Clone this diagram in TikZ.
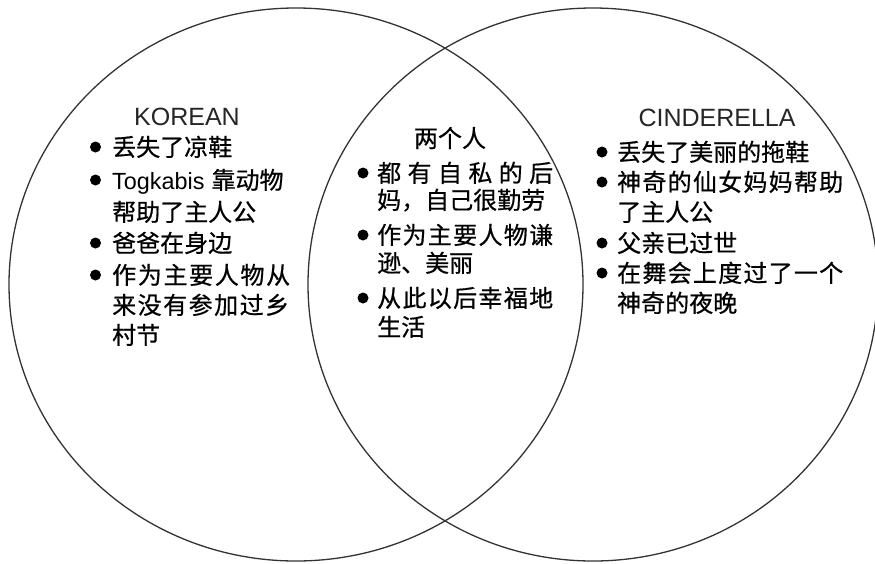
\documentclass[tikz,border=0pt]{standalone}
\usepackage{fontspec}
\setmainfont{Liberation Sans}
\newfontfamily\cjk[FakeBold=0.6]{Noto Sans CJK SC}
\newcommand{\jbox}[2]{\makebox[#1pt][s]{#2}}
\begin{document}
\begin{tikzpicture}[x=1pt,y=-1pt,
  ring/.style={draw=black!80, line width=1.3pt},
  title/.style={inner sep=0pt, font=\fontsize{25}{25}\selectfont, text=black!85},
  ctitle/.style={inner sep=0pt, font=\cjk\fontsize{24}{24}\selectfont},
  item/.style={anchor=base west, inner sep=0pt, font=\cjk\fontsize{24}{24}\selectfont},
  bul/.style={circle, fill=black, inner sep=0pt, minimum size=11pt}]
\useasboundingbox (0,0) rectangle (875,563);
\clip (0,0) rectangle (875,563);
\fill[white] (0,0) rectangle (875,563);
% circles
\draw[ring] (296,284.5) ellipse [x radius=287, y radius=276.5];
\draw[ring] (593,284.5) ellipse [x radius=285, y radius=276.5];
% ---- left: KOREAN
\node[title] (kt) at (187,117) {KOREAN};
\node[bul] (kb1) at (95.5,147) {};
\node[item] (k1) at (112,156) {丢失了凉鞋};
\node[bul] (kb2) at (95.5,180) {};
\node[item] (k2) at (112,189) {{\fontsize{23.4}{24}\selectfont\rmfamily Togkabis}\hspace{7pt}靠动物};
\node[item] (k3) at (112,221) {帮助了主人公};
\node[bul] (kb3) at (95.5,243) {};
\node[item] (k4) at (112,252) {爸爸在身边};
\node[bul] (kb4) at (95.5,275) {};
\node[item] (k5) at (112,284) {\jbox{178}{作\hfill 为\hfill 主\hfill 要\hfill 人\hfill 物\hfill 从}};
\node[item] (k6) at (112,314) {\jbox{177}{来\hfill 没\hfill 有\hfill 参\hfill 加\hfill 过\hfill 乡}};
\node[item] (k7) at (112,344) {村节};
% ---- middle: both
\node[ctitle] (mt) at (450,138) {两个人};
\node[bul] (mb1) at (363,173) {};
\node[item] (m1) at (377,182) {\jbox{176}{都\hfill 有\hfill 自\hfill 私\hfill 的\hfill 后}};
\node[item] (m2) at (377,209) {妈，自己很勤劳};
\node[bul] (mb2) at (363,235) {};
\node[item] (m3) at (377,244) {\jbox{176}{作\hfill 为\hfill 主\hfill 要\hfill 人\hfill 物\hfill 谦}};
\node[item] (m4) at (377,272) {逊、美丽};
\node[bul] (mb3) at (363,298) {};
\node[item] (m5) at (377,307) {\jbox{176}{从\hfill 此\hfill 以\hfill 后\hfill 幸\hfill 福\hfill 地}};
\node[item] (m6) at (377,336) {生活};
% ---- right: CINDERELLA
\node[title] (ct) at (717,118) {CINDERELLA};
\node[bul] (cb1) at (602,152) {};
\node[item] (c1) at (617,161) {丢失了美丽的拖鞋};
\node[bul] (cb2) at (602,182) {};
\node[item] (c2) at (617,191) {\jbox{226}{神\hfill 奇\hfill 的\hfill 仙\hfill 女\hfill 妈\hfill 妈\hfill 帮\hfill 助}};
\node[item] (c3) at (617,221) {了主人公};
\node[bul] (cb3) at (602,243) {};
\node[item] (c4) at (617,252) {父亲已过世};
\node[bul] (cb4) at (602,273) {};
\node[item] (c5) at (617,282) {\jbox{226}{在\hfill 舞\hfill 会\hfill 上\hfill 度\hfill 过\hfill 了\hfill 一\hfill 个}};
\node[item] (c6) at (617,312) {神奇的夜晚};
\end{tikzpicture}
\end{document}
